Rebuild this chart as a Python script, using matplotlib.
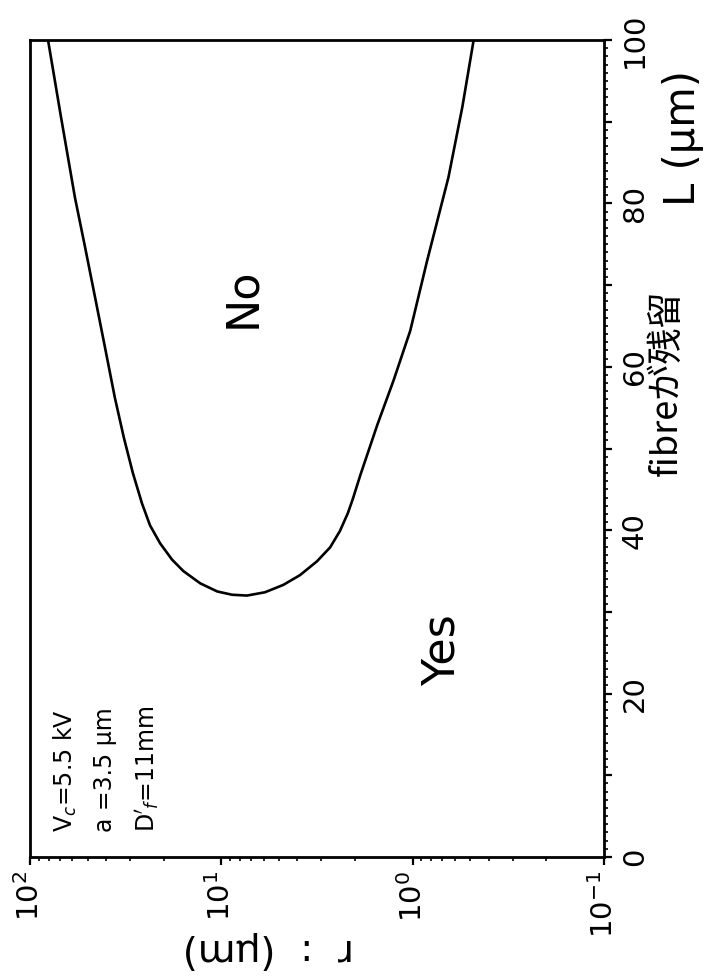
import matplotlib
matplotlib.use("Agg")
import matplotlib.pyplot as plt
from matplotlib.ticker import FixedLocator, FixedFormatter, LogLocator, MultipleLocator, NullFormatter

# Boundary between the "Yes" and "No" regions: fibre length L (um) against radius r (um),
# traced from the large-r branch, through the minimum, to the small-r branch.
L_um = [100.0, 90.6, 80.7, 74.6, 68.5, 62.3, 56.2, 51.3, 47.0, 43.3, 40.6, 38.4, 36.4,
        35.0, 33.5, 32.5, 32.1, 32.0, 32.4, 33.3, 34.5, 36.2, 37.9, 39.9, 42.1, 43.9,
        46.7, 52.9, 58.3, 64.4, 73.0, 83.2, 91.8, 100.0]
r_um = [80.5, 68.9, 58.2, 51.5, 45.7, 40.5, 36.0, 32.3, 29.0, 26.0, 23.6, 20.9, 18.1,
        15.8, 12.9, 10.5, 8.79, 7.35, 5.92, 4.75, 3.88, 3.16, 2.70, 2.40, 2.18, 2.05,
        1.88, 1.53, 1.26, 1.03, 0.84, 0.65, 0.55, 0.48]

r_ticks = [100, 10, 1, 0.1]
r_tick_labels = [r"$10^{2}$", r"$10^{1}$", r"$10^{0}$", r"$10^{-1}$"]
L_ticks = [0, 10, 20, 30, 40, 50, 60, 70, 80, 90, 100]
L_tick_labels = ["0", "", "20", "", "40", "", "60", "", "80", "", "100"]

params = "V$_c$=5.5 kV\na =3.5 \u00b5m\n$\\mathrm{D}'_f$=11mm"

plt.rcParams["font.family"] = ["DejaVu Sans"]
plt.rcParams["mathtext.fontset"] = "dejavusans"

W, H = 707, 977
fig = plt.figure(figsize=(W / 100, H / 100), dpi=100)
ax = fig.add_axes([30 / W, 1 - 857 / H, 574 / W, 817 / H])

ax.plot(r_um, L_um, color="black", lw=1.9, solid_capstyle="round",
        solid_joinstyle="round")

ax.set_xscale("log")
ax.set_xlim(100, 0.1)
ax.set_ylim(0, 100)

# r axis along the bottom, labels turned with the page
ax.xaxis.set_major_locator(FixedLocator(r_ticks))
ax.xaxis.set_major_formatter(FixedFormatter(r_tick_labels))
ax.xaxis.set_minor_locator(LogLocator(base=10, subs=range(2, 10)))
ax.xaxis.set_minor_formatter(NullFormatter())

# L axis on the right side
ax.yaxis.tick_right()
ax.yaxis.set_major_locator(FixedLocator(L_ticks))
ax.yaxis.set_major_formatter(FixedFormatter(L_tick_labels))
ax.yaxis.set_minor_locator(MultipleLocator(1))

ax.tick_params(axis="both", which="major", direction="out", length=6, width=1.6,
               labelsize=21)
ax.tick_params(axis="both", which="minor", direction="out", length=3, width=1.2)
ax.tick_params(axis="y", which="major", pad=6)
ax.tick_params(axis="x", which="major", pad=4)
for lab in ax.get_xticklabels():
    lab.set_rotation(90)
for lab in ax.get_yticklabels():
    lab.set_rotation(90)
    lab.set_verticalalignment("center")

for s in ax.spines.values():
    s.set_linewidth(2.0)

# region labels
ax.text(7.7, 68.5, "No", rotation=90, fontsize=32, ha="center", va="center")
ax.text(0.70, 25.3, "Yes", rotation=90, fontsize=32, ha="center", va="center")

# operating parameters
ax.text(40, 3.0, params, rotation=90, fontsize=17, ha="center", va="bottom",
        multialignment="left", linespacing=1.75)

# axis titles
fig.text(268 / W, 1 - 950 / H, "r  :  (\u00b5m)", rotation=180, fontsize=28,
         ha="center", va="center")
fig.text(683 / W, 1 - 138 / H, "L (\u00b5m)", rotation=90, fontsize=30,
         ha="center", va="center")
fig.text(667 / W, 1 - 383 / H, "fibreが残留", rotation=90, fontsize=26,
         ha="center", va="center", family=["Noto Sans CJK JP", "DejaVu Sans"])

fig.savefig("out.png", dpi=100)
